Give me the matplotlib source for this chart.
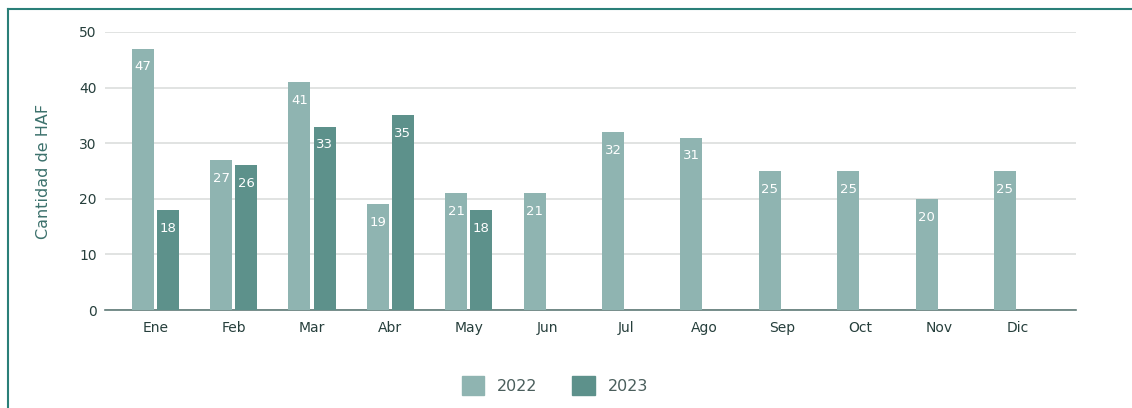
import matplotlib
matplotlib.use("Agg")
import matplotlib.pyplot as plt
import numpy as np
from matplotlib.lines import Line2D
from matplotlib.patches import Patch

months = ["Ene", "Feb", "Mar", "Abr", "May", "Jun", "Jul", "Ago", "Sep", "Oct", "Nov", "Dic"]
vals_2022 = [47, 27, 41, 19, 21, 21, 32, 31, 25, 25, 20, 25]
vals_2023 = [18, 26, 33, 35, 18, None, None, None, None, None, None, None]
series_names = ["2022", "2023"]
yticks = [0, 10, 20, 30, 40, 50]

c22 = "#8fb4b1"
c23 = "#5d918b"
txt = "#263f3c"

fig = plt.figure(figsize=(11.32, 4.08), dpi=100)
ax = fig.add_axes([0.0928, 0.240, 0.858, 0.6816])

x = np.arange(len(months))
w = 0.28
off = 0.16
ax.bar(x - off, vals_2022, width=w, color=c22, zorder=3)
x23 = [i for i, v in enumerate(vals_2023) if v is not None]
v23 = [v for v in vals_2023 if v is not None]
ax.bar(np.array(x23) + off, v23, width=w, color=c23, zorder=3)

for i, v in enumerate(vals_2022):
    ax.annotate(str(v), (i - off, v), xytext=(0, -8.5), textcoords="offset points",
                ha="center", va="top", color="white", fontsize=9.5, zorder=4)
for i, v in zip(x23, v23):
    ax.annotate(str(v), (i + off, v), xytext=(0, -8.5), textcoords="offset points",
                ha="center", va="top", color="white", fontsize=9.5, zorder=4)

ax.set_xlim(-0.64, 11.75)
ax.set_ylim(0, 50)
ax.set_yticks(yticks)
ax.set_xticks(x)
ax.set_xticklabels(months)
ax.grid(axis="y", color="#dcdedd", linewidth=1.2, zorder=0)
for s in ["top", "right", "left"]:
    ax.spines[s].set_visible(False)
ax.spines["bottom"].set_color("#5f7a77")
ax.spines["bottom"].set_linewidth(1.2)
ax.tick_params(axis="both", length=0, colors=txt, labelsize=10)
ax.tick_params(axis="x", pad=8)
ax.tick_params(axis="y", pad=6)
ax.set_ylabel("Cantidad de HAF", color="#3c716c", fontsize=11.5, labelpad=20)

handles = [Patch(color=c22), Patch(color=c23)]
fig.legend(handles, series_names, loc="center", bbox_to_anchor=(0.49, 0.055), ncol=2,
           frameon=False, fontsize=11.5, labelcolor="#4a5e5c", handlelength=1.4,
           handleheight=1.4, columnspacing=2.2, handletextpad=0.8)

# outer frame (left and top edges)
fig.add_artist(Line2D([0.0075, 0.0075], [0, 0.978], transform=fig.transFigure, color="#2a7f78", linewidth=1.5))
fig.add_artist(Line2D([0.0075, 1.0], [0.978, 0.978], transform=fig.transFigure, color="#2a7f78", linewidth=1.5))

fig.savefig("out.png", dpi=100)
